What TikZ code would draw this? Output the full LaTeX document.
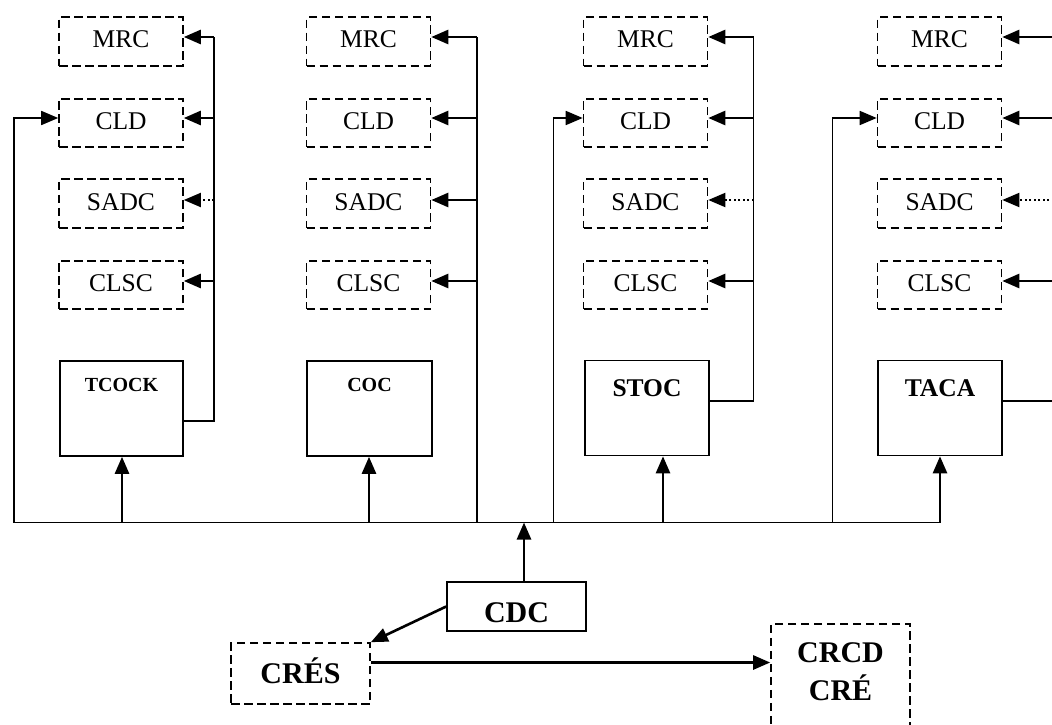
\documentclass[tikz,border=0pt]{standalone}
\usepackage{fontspec}
\setmainfont{Liberation Serif}
\usetikzlibrary{arrows.meta,calc}

\begin{document}
\begin{tikzpicture}[x=1pt,y=-1pt,
  dbox/.style={draw, dash pattern=on 8.5pt off 4.5pt, line width=1.6pt,
    minimum width=124pt, minimum height=48.5pt, inner sep=0pt,
    text height=17pt, text depth=4pt, font=\fontsize{25.5}{28}\selectfont},
  sbox/.style={draw, line width=1.6pt, inner xsep=0pt},
  smalltitle/.style={sbox, font=\bfseries\fontsize{20}{22}\selectfont,
    inner ysep=17.5pt, text height=13.2pt, text depth=46.8pt},
  bigtitle/.style={sbox, font=\bfseries\fontsize{25.5}{28}\selectfont,
    inner ysep=19pt, text height=17pt, text depth=40pt},
  bigfont/.style={font=\bfseries\fontsize{30}{32}\selectfont},
  wire/.style={line width=1.7pt},
  tip/.style={-{Triangle[length=17pt,width=14pt]}},
  arr/.style={line width=2.6pt, tip},
  darr/.style={line width=1.9pt, dash pattern=on 1.9pt off 2.6pt, tip},
]
\useasboundingbox (0,0) rectangle (1052,725);
\clip (0,0) rectangle (1052,725);

% dashed module boxes of the four columns, with their feeding buses
\foreach \c/\x/\bx/\st in {1/121/214/darr, 2/368.5/477/arr, 3/645.5/753.5/darr, 4/939.5/1058/darr}{
  \node[dbox] (mrc\c)  at (\x,41.5)  {MRC};
  \node[dbox] (cld\c)  at (\x,123)   {CLD};
  \node[dbox] (sadc\c) at (\x,203.5) {SADC};
  \node[dbox] (clsc\c) at (\x,285)   {CLSC};
  \coordinate (m\c) at (\bx,37);
  \coordinate (l\c) at (\bx,118);
  \coordinate (s\c) at (\bx,200);
  \coordinate (k\c) at (\bx,281);
  \draw[arr] (m\c) -- (m\c -| mrc\c.east);
  \draw[arr] (l\c) -- (l\c -| cld\c.east);
  \draw[\st] (s\c) -- (s\c -| sadc\c.east);
  \draw[arr] (k\c) -- (k\c -| clsc\c.east);
}

% main blocks
\node[smalltitle, minimum width=123pt] (tcock) at (121.5,408.5) {TCOCK};
\node[smalltitle, minimum width=125pt] (coc)   at (369.5,408.5) {COC};
\node[bigtitle,   minimum width=124pt] (stoc)  at (647,408)     {STOC};
\node[bigtitle,   minimum width=124pt] (taca)  at (940,408)     {TACA};

% vertical buses
\coordinate (t1) at (214,421);
\coordinate (t3) at (753.5,401);
\coordinate (t4) at (1058,401);
\coordinate (h2) at (477,522.5);
\draw[wire] (tcock.east |- t1) -- (t1) -- (m1);
\draw[wire] (h2) -- (m2);
\draw[wire] (stoc.east |- t3) -- (t3) -- (m3);
\draw[wire] (taca.east |- t4) -- (t4);

% bottom distribution bus
\coordinate (f1) at (14,522.5);
\coordinate (f3) at (553.5,522.5);
\coordinate (f4) at (832.5,522.5);
\coordinate (u1) at (122,522.5);
\coordinate (u2) at (369,522.5);
\coordinate (u3) at (663,522.5);
\coordinate (u4) at (940,522.5);
\coordinate (hub) at (524,522.5);
\draw[wire] (f1) -- (u4);
\draw[wire, tip] (f1) |- (l1 -| cld1.west);
\draw[wire, tip] (f3) |- (l3 -| cld3.west);
\draw[wire, tip] (f4) |- (l4 -| cld4.west);
\draw[arr] (u1) -- (u1 |- tcock.south);
\draw[arr] (u2) -- (u2 |- coc.south);
\draw[arr] (u3) -- (u3 |- stoc.south);
\draw[arr] (u4) -- (taca.south);

% control part
\node[sbox, bigfont, minimum width=139pt, inner ysep=0pt,
  text height=40pt, text depth=9pt] (cdc) at (516.5,606.5) {CDC};
\node[dbox, bigfont, minimum width=139pt, minimum height=61pt,
  text height=20pt, text depth=0pt] (cres) at (300.5,673.5) {CRÉS};
\node[dbox, minimum width=139pt, minimum height=150pt, anchor=north] (crcd) at (840.5,623) {};
\node[bigfont, anchor=base] (crcdA) at (840.5,662) {CRCD};
\node[bigfont, anchor=base] (crcdB) at (840.5,700) {CRÉ};

\draw[arr] (hub |- cdc.north) -- (hub);
\draw[arr] (cdc.west) -- (cres.north east);
\draw[arr] ([yshift=11pt]cres.east) -- ([yshift=11pt]cres.east -| crcd.west);
\end{tikzpicture}
\end{document}
